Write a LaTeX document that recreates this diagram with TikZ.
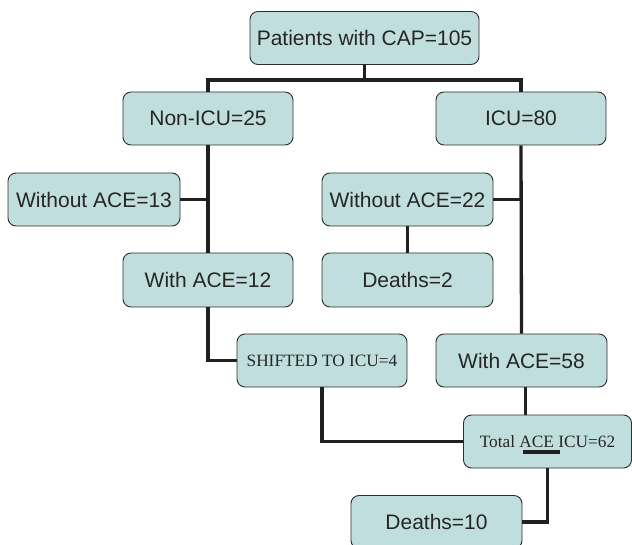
\documentclass[tikz,border=0pt]{standalone}
\usepackage{fontspec}
\setmainfont{Liberation Sans}
\newfontfamily\serifx{Liberation Serif}
\definecolor{boxfill}{RGB}{192,222,221}
\definecolor{boxline}{RGB}{45,45,45}
\definecolor{conn}{RGB}{35,31,32}
\begin{document}
\begin{tikzpicture}[x=1pt,y=-1pt,
  box/.style={draw=boxline,fill=boxfill,line width=0.9pt,rounded corners=8pt,
    minimum height=53pt,inner sep=0pt,font=\fontsize{21}{24}\selectfont,text=black!85},
  sbox/.style={box,font=\serifx\fontsize{17.3}{20}\selectfont},
  link/.style={draw=conn,line width=3.3pt,line join=miter}]
\useasboundingbox (0,0) rectangle (632,545);
\clip (0,0) rectangle (632,545);
% nodes
\node[box,minimum width=229pt] (top) at (364.5,38) {Patients with CAP=105};
\node[box,minimum width=170pt] (nonicu) at (208,118.5) {Non-ICU=25};
\node[box,minimum width=170pt] (icu) at (521,118.5) {ICU=80};
\node[box,minimum width=172pt] (wo13) at (94,199.5) {Without ACE=13};
\node[box,minimum width=171pt] (wo22) at (407.5,199.5) {Without ACE=22};
\node[box,minimum width=170pt,minimum height=54pt] (w12) at (208,280) {With ACE=12};
\node[box,minimum width=171pt,minimum height=54pt] (d2) at (407.5,280) {Deaths=2};
\node[sbox,minimum width=170pt] (shifted) at (322,360.5) {SHIFTED TO ICU=4};
\node[box,minimum width=171pt] (w58) at (521.5,360.5) {With ACE=58};
\node[sbox,minimum width=168pt] (total) at (547.5,441.5) {Total ACE ICU=62};
\node[box,minimum width=171pt] (d10) at (436.5,522) {Deaths=10};
% connectors
\coordinate (barL) at (208,80);
\coordinate (barR) at (521,80);
\draw[link] (top.south) -- (top.south |- barL);
\draw[link] (nonicu.north) -- (barL) -- (barR) -- (icu.north);
\draw[link] (nonicu.south) -- (w12.north);
\draw[link] (wo13.east) -- (nonicu.south |- wo13.east);
\draw[link] (icu.south) -- (w58.north);
\draw[link] (wo22.east) -- (icu.south |- wo22.east);
\draw[link] (wo22.south) -- (d2.north);
\draw[link] (w12.south) -- (w12.south |- shifted.west) -- (shifted.west);
\draw[link] (shifted.south) -- (shifted.south |- total.west) -- (total.west);
\draw[link] ([xshift=4pt]w58.south) -- ([xshift=4pt]w58.south |- total.north);
\draw[link] (total.south) -- (total.south |- d10.east) -- (d10.east);
% underline mark in total box
\draw[draw=conn,line width=3.5pt] (523,452) -- (560,452);
\end{tikzpicture}
\end{document}
